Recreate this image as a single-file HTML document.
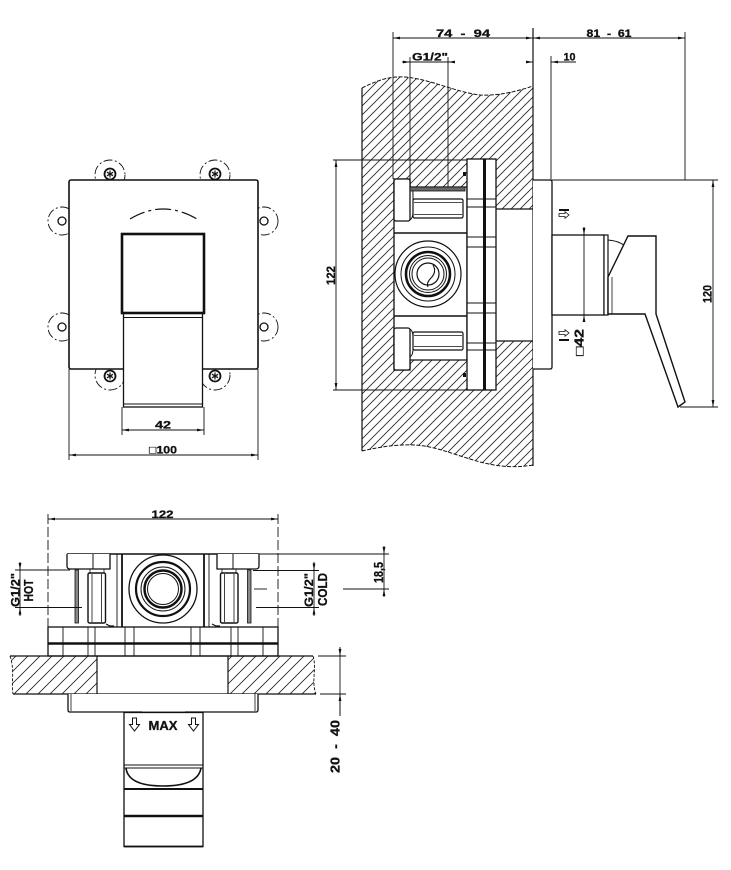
<!DOCTYPE html>
<html><head><meta charset="utf-8">
<style>
html,body{margin:0;padding:0;background:#fff;}
svg{display:block}
text{font-family:"Liberation Sans","DejaVu Sans",sans-serif;font-weight:bold;fill:#111;stroke:#111;stroke-width:0.3}
</style></head>
<body>
<svg width="731" height="870" viewBox="0 0 731 870" xmlns="http://www.w3.org/2000/svg">
<defs>
<pattern id="h9" patternUnits="userSpaceOnUse" width="9" height="9"><path d="M0,9 L9,0 M-1,1 L1,-1 M8,10 L10,8" stroke="#222" stroke-width="0.8"/></pattern>
<pattern id="h12" patternUnits="userSpaceOnUse" width="12" height="12"><path d="M0,12 L12,0 M-1,1 L1,-1 M11,13 L13,11" stroke="#222" stroke-width="0.8"/></pattern>
<marker id="ah" viewBox="0 0 10 4" refX="10" refY="2" markerWidth="7" markerHeight="2.8" orient="auto-start-reverse" markerUnits="userSpaceOnUse"><path d="M0,0 L10,2 L0,4 z" fill="#111"/></marker>
</defs>

<!-- ================= FRONT VIEW ================= -->
<g fill="none" stroke="#111">
  <g stroke-width="0.9" stroke-dasharray="9 2.5 2 2.5">
    <circle cx="110" cy="175" r="15"/><circle cx="215" cy="175" r="15"/>
    <circle cx="110" cy="375" r="15"/><circle cx="215" cy="375" r="15"/>
    <circle cx="62" cy="221" r="14"/><circle cx="62" cy="327" r="14"/>
    <circle cx="264" cy="221" r="14"/><circle cx="264" cy="327" r="14"/>
  </g>
  <rect x="69" y="180" width="189" height="189" rx="2" fill="#fff" stroke-width="1.6"/>
  <g stroke-width="1.3" fill="#fff">
    <circle cx="62" cy="221" r="4"/><circle cx="62" cy="327" r="4"/>
    <circle cx="264" cy="221" r="4"/><circle cx="264" cy="327" r="4"/>
  </g>
  <g stroke-width="1.8" fill="#fff">
    <circle cx="110" cy="174" r="5.5"/><circle cx="215" cy="174" r="5.5"/>
    <circle cx="110" cy="376" r="5.5"/><circle cx="215" cy="376" r="5.5"/>
  </g>
  <g stroke-width="1.2">
    <path d="M110,170.5 v7 M107,172.2 l6,3.5 M107,175.8 l6,-3.5"/>
    <path d="M215,170.5 v7 M212,172.2 l6,3.5 M212,175.8 l6,-3.5"/>
    <path d="M110,372.5 v7 M107,374.2 l6,3.5 M107,377.8 l6,-3.5"/>
    <path d="M215,372.5 v7 M212,374.2 l6,3.5 M212,377.8 l6,-3.5"/>
  </g>
  <path d="M130,219 Q163,199 197,219" stroke-width="1.2" stroke-dasharray="16 4 3 4"/>
  <rect x="123.5" y="313" width="79" height="94" stroke-width="1.3" fill="#fff"/>
  <line x1="123.5" y1="317.5" x2="202.5" y2="317.5" stroke-width="1"/>
  <line x1="123.5" y1="404" x2="202.5" y2="404" stroke-width="1.1"/>
  <rect x="122" y="234" width="82" height="79" stroke-width="2.6" fill="#fff"/>
  <g stroke-width="0.9">
    <line x1="122" y1="407" x2="122" y2="435"/><line x1="204" y1="407" x2="204" y2="435"/>
    <line x1="122" y1="430" x2="204" y2="430" marker-start="url(#ah)" marker-end="url(#ah)"/>
    <line x1="69" y1="369" x2="69" y2="460"/><line x1="258" y1="369" x2="258" y2="460"/>
    <line x1="69" y1="455" x2="258" y2="455" marker-start="url(#ah)" marker-end="url(#ah)"/>
  </g>
</g>
<text x="163" y="428.5" font-size="11" text-anchor="middle" textLength="16" lengthAdjust="spacingAndGlyphs">42</text>
<text x="163" y="453.5" font-size="11" text-anchor="middle" textLength="28" lengthAdjust="spacingAndGlyphs">□100</text>

<!-- ================= SIDE VIEW ================= -->
<g fill="none" stroke="#111">
  <path d="M362,88 C378,80 390,76 405,77 C430,79 455,92 480,95 C500,96 518,91 533,86 L533,465 C515,468 500,467 480,462 C455,455 435,446 415,445 C395,444 375,448 362,451 Z" fill="url(#h9)" stroke="none"/>
  <path d="M362,88 C378,80 390,76 405,77 C430,79 455,92 480,95 C500,96 518,91 533,86" stroke-width="1" stroke-dasharray="4 1.5"/>
  <path d="M533,465 C515,468 500,467 480,462 C455,455 435,446 415,445 C395,444 375,448 362,451" stroke-width="1" stroke-dasharray="4 1.5"/>
  <line x1="362" y1="88" x2="362" y2="451" stroke-width="1.2"/>

  <!-- cavity -->
  <rect x="496" y="209" width="37" height="132" fill="#fff" stroke="none"/>
  <line x1="496" y1="209" x2="533" y2="209" stroke-width="1.2"/>
  <line x1="496" y1="341" x2="533" y2="341" stroke-width="1.2"/>
  <line x1="533" y1="28" x2="533" y2="466" stroke-width="1.2"/>

  <!-- body -->
  <path d="M394,179 H410 V187 H467 V360 H410 V370 H394 Z" fill="#fff" stroke-width="1.3"/>
  <rect x="394" y="179" width="16" height="42" rx="2" fill="#fff" stroke-width="1.3"/>
  <path d="M410,186 q3,2 3,8 v18 q0,6 -3,8" stroke-width="1"/>
  <rect x="410" y="187" width="55" height="4" fill="#666" stroke-width="0.8"/>
  <rect x="413" y="199" width="50" height="19" rx="1.5" stroke-width="1.2"/>
  <line x1="414" y1="202.5" x2="462" y2="202.5" stroke-width="0.8"/>
  <line x1="414" y1="214.5" x2="462" y2="214.5" stroke-width="0.8"/>
  <line x1="394" y1="233" x2="467" y2="233" stroke-width="1.6"/>
  <line x1="394" y1="316" x2="467" y2="316" stroke-width="1.6"/>
  <circle cx="428" cy="274" r="33" stroke-width="1.2"/>
  <circle cx="428" cy="274" r="27" stroke-width="1"/>
  <circle cx="428" cy="274" r="22" stroke-width="2.5"/>
  <circle cx="428" cy="274" r="18.5" stroke-width="1"/>
  <circle cx="428" cy="274" r="16" stroke-width="1"/>
  <circle cx="428" cy="274" r="11" stroke-width="1.2"/>
  <path d="M433,265 Q437,272 431,278 Q426,283 428,287" stroke-width="1.1"/>
  <rect x="394" y="328" width="16" height="42" rx="2" fill="#fff" stroke-width="1.3"/>
  <path d="M410,329 q3,2 3,8 v12 q0,6 -3,8" stroke-width="1"/>
  <rect x="413" y="332" width="50" height="18" rx="1.5" stroke-width="1.2"/>
  <line x1="414" y1="335.5" x2="462" y2="335.5" stroke-width="0.8"/>
  <line x1="414" y1="346.5" x2="462" y2="346.5" stroke-width="0.8"/>

  <!-- flange -->
  <rect x="467" y="159" width="29" height="231" fill="#fff" stroke-width="1.3"/>
  <line x1="484.5" y1="159" x2="484.5" y2="390" stroke-width="3"/>
  <g stroke-width="0.9">
    <line x1="467" y1="199" x2="496" y2="199"/><line x1="467" y1="207" x2="496" y2="207"/>
    <line x1="467" y1="237" x2="496" y2="237"/><line x1="467" y1="247" x2="496" y2="247"/>
    <line x1="467" y1="303" x2="496" y2="303"/><line x1="467" y1="313" x2="496" y2="313"/>
    <line x1="467" y1="343" x2="496" y2="343"/><line x1="467" y1="350" x2="496" y2="350"/>
  </g>
  <rect x="463" y="172" width="3" height="4" fill="#111" stroke="none"/>
  <rect x="463" y="373" width="3" height="4" fill="#111" stroke="none"/>

  <!-- cover plate + mixer -->
  <path d="M533,180 H550 Q552,180 552,182 V367 Q552,369 550,369 H533" fill="#fff" stroke-width="1.3"/>
  <rect x="552" y="235" width="52" height="80" fill="#fff" stroke-width="1.3"/>
  <rect x="604" y="235" width="4" height="80" fill="#fff" stroke-width="1.2"/>
  <path d="M608,240 Q620,241 626,247" stroke-width="1"/>
  <path d="M628,236 L656,236 L656,314 L685,402 L678,407 L645,314 L608,314 L608,277 Z" fill="#fff" stroke-width="1.4"/>
  <line x1="612" y1="277" x2="612" y2="314" stroke-width="0.8"/>

  <!-- small symbols -->
  <line x1="559" y1="210" x2="569" y2="210" stroke-width="2"/>
  <path d="M559,213.5 h6 v-1.8 l4,3.3 l-4,3.3 v-1.8 h-6 z" stroke-width="0.8"/>
  <path d="M559,331.5 h6 v-1.8 l4,3.3 l-4,3.3 v-1.8 h-6 z" stroke-width="0.8"/>
  <line x1="559" y1="340" x2="569" y2="340" stroke-width="2"/>

  <!-- dims -->
  <g stroke-width="0.9">
    <line x1="393" y1="32" x2="393" y2="179"/>
    <line x1="685" y1="32" x2="685" y2="180"/>
    <line x1="393" y1="38" x2="533" y2="38" marker-start="url(#ah)" marker-end="url(#ah)"/>
    <line x1="533" y1="38" x2="685" y2="38" marker-start="url(#ah)" marker-end="url(#ah)"/>
    <line x1="410" y1="57" x2="410" y2="187"/><line x1="448" y1="57" x2="448" y2="187"/>
    <line x1="402" y1="62" x2="455" y2="62"/>
    <line x1="402" y1="62" x2="410" y2="62" marker-end="url(#ah)"/>
    <line x1="455" y1="62" x2="448" y2="62" marker-end="url(#ah)"/>
    <line x1="551" y1="56" x2="551" y2="180"/>
    <line x1="526" y1="62" x2="533" y2="62" marker-end="url(#ah)"/>
    <line x1="576" y1="62" x2="551" y2="62" marker-end="url(#ah)"/>
    <line x1="333" y1="160" x2="467" y2="160"/>
    <line x1="333" y1="390" x2="467" y2="390"/>
    <line x1="336" y1="160" x2="336" y2="390" marker-start="url(#ah)" marker-end="url(#ah)"/>
    <line x1="552" y1="180" x2="718" y2="180"/>
    <line x1="680" y1="407" x2="718" y2="407"/>
    <line x1="713" y1="180" x2="713" y2="407" marker-start="url(#ah)" marker-end="url(#ah)"/>
    <line x1="584" y1="227" x2="584" y2="322"/>
    <line x1="584" y1="227" x2="584" y2="235" marker-end="url(#ah)"/>
    <line x1="584" y1="322" x2="584" y2="315" marker-end="url(#ah)"/>
  </g>
</g>
<text x="463" y="37" font-size="11" text-anchor="middle" textLength="54" lengthAdjust="spacingAndGlyphs" xml:space="preserve">74  -  94</text>
<text x="609" y="37" font-size="11" text-anchor="middle" textLength="45" lengthAdjust="spacingAndGlyphs" xml:space="preserve">81  -  61</text>
<text x="430" y="60.5" font-size="11" text-anchor="middle" textLength="36" lengthAdjust="spacingAndGlyphs">G1/2"</text>
<text x="569.5" y="60.5" font-size="11" text-anchor="middle" textLength="12" lengthAdjust="spacingAndGlyphs">10</text>
<text transform="translate(335,275.5) rotate(-90)" font-size="12" text-anchor="middle" textLength="19" lengthAdjust="spacingAndGlyphs">122</text>
<text transform="translate(711.5,294) rotate(-90)" font-size="12" text-anchor="middle" textLength="18" lengthAdjust="spacingAndGlyphs">120</text>
<text transform="translate(583.5,342.5) rotate(-90)" font-size="12.5" text-anchor="middle" textLength="27" lengthAdjust="spacingAndGlyphs">□42</text>

<!-- ================= BOTTOM VIEW ================= -->
<g fill="none" stroke="#111">
  <g stroke-width="0.9">
    <line x1="48" y1="514" x2="48" y2="627" stroke-dasharray="10 3"/>
    <line x1="278" y1="514" x2="278" y2="627" stroke-dasharray="10 3"/>
    <line x1="48" y1="519" x2="278" y2="519" marker-start="url(#ah)" marker-end="url(#ah)"/>
  </g>
  <line x1="67" y1="554" x2="259" y2="554" stroke-width="1.4"/>
  <path d="M67,554 V566 Q67,569 70,569 H110 V554" fill="#fff" stroke-width="1.3"/>
  <line x1="93" y1="554" x2="93" y2="569" stroke-width="1"/>
  <path d="M259,554 V566 Q259,569 256,569 H217 V554" fill="#fff" stroke-width="1.3"/>
  <line x1="233" y1="554" x2="233" y2="569" stroke-width="1"/>
  <line x1="122" y1="554" x2="122" y2="627" stroke-width="1.8"/>
  <line x1="204" y1="554" x2="204" y2="627" stroke-width="1.8"/>
  <line x1="117" y1="554" x2="117" y2="627" stroke-width="0.9"/>
  <line x1="209" y1="554" x2="209" y2="627" stroke-width="0.9"/>
  <circle cx="163" cy="589" r="34" stroke-width="1.3"/>
  <circle cx="163" cy="589" r="27" stroke-width="2.2"/>
  <circle cx="163" cy="589" r="22" stroke-width="1"/>
  <circle cx="163" cy="589" r="18.5" stroke-width="2.5"/>
  <circle cx="163" cy="589" r="15.5" stroke-width="1"/>
  <rect x="75" y="570" width="3.5" height="53" fill="#888" stroke-width="0.8"/>
  <rect x="90" y="569" width="14" height="4" stroke-width="0.8"/>
  <rect x="88" y="573" width="17.5" height="50" rx="1.5" stroke-width="1.4"/>
  <line x1="92" y1="574" x2="92" y2="622" stroke-width="0.8"/>
  <line x1="101.5" y1="574" x2="101.5" y2="622" stroke-width="0.8"/>
  <path d="M106,624 l4,2 h4" stroke-width="1.2"/>
  <rect x="247.5" y="570" width="3.5" height="53" fill="#888" stroke-width="0.8"/>
  <rect x="222" y="569" width="14" height="4" stroke-width="0.8"/>
  <rect x="220.5" y="573" width="17.5" height="50" rx="1.5" stroke-width="1.4"/>
  <line x1="224.5" y1="574" x2="224.5" y2="622" stroke-width="0.8"/>
  <line x1="234" y1="574" x2="234" y2="622" stroke-width="0.8"/>
  <path d="M212,624 l4,2 h4" stroke-width="1.2"/>
  <rect x="48" y="627" width="230" height="29" fill="#fff" stroke-width="1.3"/>
  <line x1="48" y1="643.5" x2="278" y2="643.5" stroke-width="2.4"/>
  <g stroke-width="0.9">
    <line x1="63" y1="627" x2="63" y2="656"/><line x1="88" y1="627" x2="88" y2="656"/>
    <line x1="95" y1="627" x2="95" y2="656"/><line x1="125" y1="627" x2="125" y2="656"/>
    <line x1="134" y1="627" x2="134" y2="656"/><line x1="191" y1="627" x2="191" y2="656"/>
    <line x1="200" y1="627" x2="200" y2="656"/><line x1="231" y1="627" x2="231" y2="656"/>
    <line x1="238" y1="627" x2="238" y2="656"/><line x1="263" y1="627" x2="263" y2="656"/>
  </g>
  <path d="M10,656 L97,656 L97,694 L13,694 C11,684 15,670 10,656 Z" fill="url(#h12)" stroke="none"/>
  <path d="M228,656 L313,656 C317,668 311,682 316,694 L228,694 Z" fill="url(#h12)" stroke="none"/>
  <line x1="10" y1="656" x2="313" y2="656" stroke-width="1.2"/>
  <line x1="13" y1="694" x2="316" y2="694" stroke-width="1.2"/>
  <line x1="97" y1="656" x2="97" y2="694" stroke-width="1.2"/>
  <line x1="228" y1="656" x2="228" y2="694" stroke-width="1.2"/>
  <path d="M10,656 C15,670 11,684 13,694" stroke-width="0.9" stroke-dasharray="3 1.5"/>
  <path d="M313,656 C317,668 311,682 316,694" stroke-width="0.9" stroke-dasharray="3 1.5"/>
  <path d="M68,694 V710 Q68,712 70,712 H256 Q258,712 258,710 V694" fill="#fff" stroke-width="1.3"/>
  <line x1="71" y1="694" x2="71" y2="711" stroke-width="0.8"/>
  <line x1="255" y1="694" x2="255" y2="711" stroke-width="0.8"/>
  <rect x="142" y="711.5" width="43" height="2" fill="#999" stroke="none"/>
  <rect x="124" y="712.5" width="79" height="134" fill="#fff" stroke-width="1.3"/>
  <line x1="124" y1="765" x2="203" y2="765" stroke-width="1"/>
  <line x1="124" y1="768" x2="203" y2="768" stroke-width="1"/>
  <path d="M126,768 Q128,786 163,786 Q198,786 201,768" stroke-width="1.6"/>
  <line x1="124" y1="789" x2="203" y2="789" stroke-width="2"/>
  <line x1="124" y1="816" x2="203" y2="816" stroke-width="2.5"/>
  <line x1="124" y1="846.5" x2="203" y2="846.5" stroke-width="1.8"/>
  <path d="M132.5,718 h4 v6.5 h3 l-5,6.5 l-5,-6.5 h3 z" stroke-width="1"/>
  <path d="M191.5,718 h4 v6.5 h3 l-5,6.5 l-5,-6.5 h3 z" stroke-width="1"/>
  <g stroke-width="0.9">
    <line x1="259" y1="554" x2="389" y2="554"/>
    <line x1="343" y1="589" x2="389" y2="589"/>
    <line x1="384" y1="547" x2="384" y2="595"/>
    <line x1="384" y1="546" x2="384" y2="554" marker-end="url(#ah)"/>
    <line x1="384" y1="597" x2="384" y2="589" marker-end="url(#ah)"/>
    <line x1="15" y1="570" x2="70" y2="570"/>
    <line x1="15" y1="607.5" x2="82" y2="607.5"/>
    <line x1="20" y1="563" x2="20" y2="615"/>
    <line x1="20" y1="562" x2="20" y2="570" marker-end="url(#ah)"/>
    <line x1="20" y1="616" x2="20" y2="607.5" marker-end="url(#ah)"/>
    <line x1="253" y1="570.5" x2="319" y2="570.5"/>
    <line x1="256" y1="607.5" x2="319" y2="607.5"/>
    <line x1="254" y1="589" x2="267" y2="589"/>
    <line x1="314" y1="563" x2="314" y2="615"/>
    <line x1="314" y1="562" x2="314" y2="570.5" marker-end="url(#ah)"/>
    <line x1="314" y1="616" x2="314" y2="607.5" marker-end="url(#ah)"/>
    <line x1="318" y1="656" x2="346" y2="656"/>
    <line x1="320" y1="694" x2="346" y2="694"/>
    <line x1="340" y1="648" x2="340" y2="716"/>
    <line x1="340" y1="647" x2="340" y2="656" marker-end="url(#ah)"/>
    <line x1="340" y1="716" x2="340" y2="694" marker-end="url(#ah)"/>
  </g>
</g>
<text x="162.5" y="518" font-size="11" text-anchor="middle" textLength="22" lengthAdjust="spacingAndGlyphs">122</text>
<text x="163" y="730" font-size="13" text-anchor="middle" textLength="29" lengthAdjust="spacingAndGlyphs">MAX</text>
<text transform="translate(19.5,590) rotate(-90)" font-size="11.5" text-anchor="middle" textLength="34" lengthAdjust="spacingAndGlyphs">G1/2"</text>
<text transform="translate(33,590.5) rotate(-90)" font-size="12.5" text-anchor="middle" textLength="22" lengthAdjust="spacingAndGlyphs">HOT</text>
<text transform="translate(313,590) rotate(-90)" font-size="11.5" text-anchor="middle" textLength="34" lengthAdjust="spacingAndGlyphs">G1/2"</text>
<text transform="translate(327,589.5) rotate(-90)" font-size="12.5" text-anchor="middle" textLength="33" lengthAdjust="spacingAndGlyphs">COLD</text>
<text transform="translate(383,572.5) rotate(-90)" font-size="12.5" text-anchor="middle" textLength="21" lengthAdjust="spacingAndGlyphs">18,5</text>
<text transform="translate(339.5,746.5) rotate(-90)" font-size="13" text-anchor="middle" textLength="53" lengthAdjust="spacingAndGlyphs" xml:space="preserve">20  -  40</text>
</svg>
</body></html>
